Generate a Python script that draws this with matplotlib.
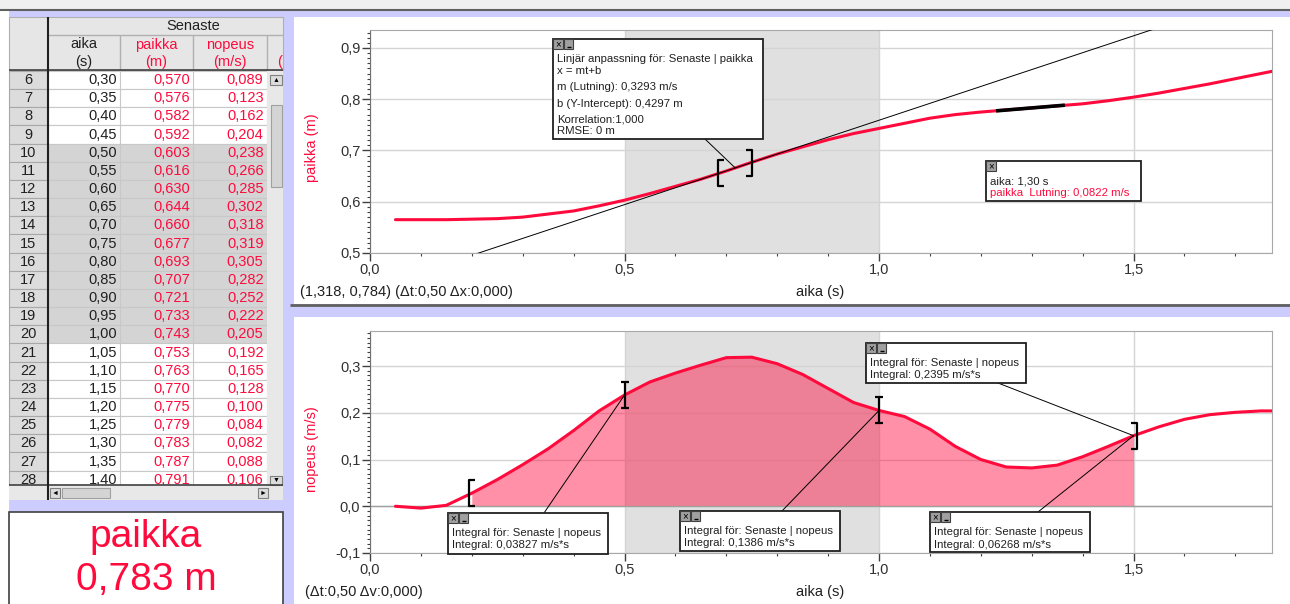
import numpy as np
import matplotlib
matplotlib.use('Agg')
import matplotlib.pyplot as plt
from matplotlib.patches import Rectangle
from matplotlib.ticker import MultipleLocator, FuncFormatter

plt.rcParams['font.family'] = ['Liberation Sans', 'DejaVu Sans']

W, H = 1290, 604

# data (Senaste run)
aika = [0.05, 0.10, 0.15, 0.20, 0.25, 0.30, 0.35, 0.40, 0.45, 0.50,
        0.55, 0.60, 0.65, 0.70, 0.75, 0.80, 0.85, 0.90, 0.95, 1.00,
        1.05, 1.10, 1.15, 1.20, 1.25, 1.30, 1.35, 1.40, 1.45, 1.50,
        1.55, 1.60, 1.65, 1.70, 1.75, 1.80]
paikka = [0.565, 0.565, 0.565, 0.566, 0.567, 0.570, 0.576, 0.582, 0.592, 0.603,
          0.616, 0.630, 0.644, 0.660, 0.677, 0.693, 0.707, 0.721, 0.733, 0.743,
          0.753, 0.763, 0.770, 0.775, 0.779, 0.783, 0.787, 0.791, 0.797, 0.804,
          0.812, 0.821, 0.830, 0.840, 0.850, 0.860]
nopeus = [0.000, -0.004, 0.002, 0.028, 0.057, 0.089, 0.123, 0.162, 0.204, 0.238,
          0.266, 0.285, 0.302, 0.318, 0.319, 0.305, 0.282, 0.252, 0.222, 0.205,
          0.192, 0.165, 0.128, 0.100, 0.084, 0.082, 0.088, 0.106, 0.128, 0.151,
          0.170, 0.186, 0.196, 0.201, 0.204, 0.204]

table_rows = list(range(6, 29))      # row numbers shown in the table
table_start = 0.30                   # aika of row 6
sel_range = (0.50, 1.00)             # selected region
fit_m, fit_b = 0.3293, 0.4297
fit_range = (0.69, 0.745)
tan_t, tan_slope = 1.30, 0.0822
tan_range = (1.23, 1.365)
int_edges = [0.20, 0.50, 1.00, 1.50]
int_values = ['0,03827', '0,1386', '0,2395', '0,06268']

RED = '#ff0a3c'
LAV = '#ccccff'
SEL = '#e0e0e0'


def comma(v, d):
    s = f'{v:.{d}f}'.replace('.', ',')
    return '0,' + '0' * d if s.strip('-0,') == '' else s


fig = plt.figure(figsize=(W / 100, H / 100), dpi=100)
bg = fig.add_axes([0, 0, 1, 1], zorder=0)
ov = fig.add_axes([0, 0, 1, 1], zorder=10)
for a in (bg, ov):
    a.set_xlim(0, W)
    a.set_ylim(H, 0)
    a.axis('off')
ov.patch.set_visible(False)


def box(ax, x0, y0, x1, y1, **kw):
    ax.add_patch(Rectangle((x0, y0), x1 - x0, y1 - y0, **kw))


def hline(ax, y, x0, x1, c, lw=1, z=2):
    ax.plot([x0, x1], [y, y], color=c, lw=lw, zorder=z, solid_capstyle='butt')


def vline(ax, x, y0, y1, c, lw=1, z=2):
    ax.plot([x, x], [y0, y1], color=c, lw=lw, zorder=z, solid_capstyle='butt')


# window background
box(bg, 0, 0, W, 9, fc='#f0f0f0', lw=0)
box(bg, 9, 10, W, H, fc=LAV, lw=0)
hline(bg, 9.5, 0, W, '#606060', lw=1.5)
box(bg, 294, 17, W, 304, fc='white', lw=0)
hline(bg, 305, 290, W, '#606060', lw=2)
box(bg, 294, 317, W, H, fc='white', lw=0)

# ---- data table ----
box(bg, 9, 17, 283, 70, fc='#e6e6e6', ec='#b0b0b0', lw=0.8)
hline(bg, 35, 48, 283, '#b0b0b0')
for x in (120, 193, 267):
    vline(bg, x, 35, 70, '#b0b0b0')
bg.text(193, 25.5, 'Senaste', ha='center', va='center', fontsize=10.5, color='#202020')
heads = [('aika', '(s)', 84, '#202020'), ('paikka', '(m)', 156, RED),
         ('nopeus', '(m/s)', 230, RED), ('', '(', 280, RED)]
for name, unit, x, c in heads:
    bg.text(x, 44.5, name, ha='center', va='center', fontsize=10.5, color=c)
    bg.text(x, 62, unit, ha='center', va='center', fontsize=10.5, color=c)

row_h = 18.17
i0 = aika.index(table_start)
for i, r in enumerate(table_rows):
    k = i0 + i
    yc = 80 + i * row_h
    y0, y1 = yc - row_h / 2, yc + row_h / 2
    selected = sel_range[0] - 1e-9 <= aika[k] <= sel_range[1] + 1e-9
    box(bg, 9, y0, 48, y1, fc='#dcdcdc', ec='#a8a8a8', lw=0.8)
    box(bg, 48, y0, 267, y1, fc='#d4d4d4' if selected else 'white',
        ec='#c8c8c8', lw=0.8)
    for x in (120, 193):
        vline(bg, x, y0, y1, '#c8c8c8', lw=0.8)
    bg.text(28, yc, str(r), ha='center', va='center', fontsize=10.5, color='#202020')
    bg.text(117, yc, comma(aika[k], 2), ha='right', va='center', fontsize=10.5, color='#202020')
    bg.text(190, yc, comma(paikka[k], 3), ha='right', va='center', fontsize=10.5, color=RED)
    bg.text(263.5, yc, comma(nopeus[k], 3), ha='right', va='center', fontsize=10.5, color=RED)

# scrollbars (cover the clipped last row)
box(bg, 267, 71, 283, 485, fc='#e8e8e8', lw=0, zorder=3)
box(bg, 270, 75, 282, 85, fc='#dcdcdc', ec='#808080', lw=0.8, zorder=4)
bg.text(276, 80.5, '▲', ha='center', va='center', fontsize=5, zorder=5)
box(bg, 270.5, 105, 282, 187, fc='#d4d4d4', ec='#a0a0a0', lw=0.8, zorder=4)
box(bg, 270, 476, 282, 485, fc='#dcdcdc', ec='#808080', lw=0.8, zorder=4)
bg.text(276, 480.5, '▼', ha='center', va='center', fontsize=5, zorder=5)
box(bg, 9, 485, 283, 500, fc='#e8e8e8', lw=0, zorder=3)
hline(bg, 485, 9, 283, '#404040', lw=1.2, z=4)
box(bg, 50, 488, 60, 498, fc='#dcdcdc', ec='#808080', lw=0.8, zorder=4)
bg.text(55, 493, '◄', ha='center', va='center', fontsize=5, zorder=5)
box(bg, 62, 488, 110, 498, fc='#d4d4d4', ec='#a0a0a0', lw=0.8, zorder=4)
box(bg, 258, 488, 268, 498, fc='#dcdcdc', ec='#808080', lw=0.8, zorder=4)
bg.text(263, 493, '►', ha='center', va='center', fontsize=5, zorder=5)
hline(bg, 70, 9, 283, '#404040', lw=1.2, z=4)
vline(bg, 48, 17, 500, '#202020', lw=1.5, z=4)

# meter box
i_now = aika.index(tan_t)
box(bg, 9, 512, 283, H + 2, fc='white', ec='#404040', lw=1.2)
bg.text(146, 537, 'paikka', ha='center', va='center', fontsize=28, color=RED)
bg.text(146, 580, comma(paikka[i_now], 3) + ' m', ha='center', va='center',
        fontsize=28, color=RED)

# ---- graphs ----
XMAX = 1.772


def fmt(v, p):
    return comma(v, 1)


def chart(y0, y1, ylo, yhi):
    ax = fig.add_axes([370 / W, 1 - y1 / H, (1272 - 370) / W, (y1 - y0) / H], zorder=5)
    ax.set_xlim(0, XMAX)
    ax.set_ylim(ylo, yhi)
    ax.set_axisbelow(True)
    ax.axvspan(*sel_range, color=SEL, lw=0, zorder=0)
    ax.xaxis.set_major_locator(MultipleLocator(0.5))
    ax.xaxis.set_minor_locator(MultipleLocator(0.1))
    ax.yaxis.set_major_locator(MultipleLocator(0.1))
    ax.yaxis.set_minor_locator(MultipleLocator(0.01))
    ax.xaxis.set_major_formatter(FuncFormatter(fmt))
    ax.yaxis.set_major_formatter(FuncFormatter(fmt))
    ax.grid(which='major', color='#d4d4d4', lw=1)
    ax.tick_params(which='major', length=5.5, width=1, color='#404040',
                   labelsize=10.5, labelcolor='#303030', pad=1.5)
    ax.tick_params(which='minor', length=2.5, width=0.8, color='#404040')
    for s in ax.spines.values():
        s.set_color('#a8a8a8')
    ax.spines['left'].set_color('#707070')
    return ax


def to_px(ax, t, v):
    x, y = ax.transData.transform((t, v))
    return x, H - y


ax1 = chart(30, 253, 0.5, 0.935)
ax2 = chart(331, 553, -0.1, 0.375)

t = np.array(aika)
p = np.array(paikka)
v = np.array(nopeus)

ax1.plot(t, p, color=RED, lw=2.2, zorder=3, solid_capstyle='round')
tl = np.array([0, XMAX])
ax1.plot(tl, fit_m * tl + fit_b, color='black', lw=0.7, zorder=4)
tt = np.array(tan_range)
p_now = np.interp(tan_t, t, p)
ax1.plot(tt, p_now + tan_slope * (tt - tan_t), color='black', lw=2.6, zorder=5,
         solid_capstyle='butt')

mask = (t >= int_edges[0] - 1e-9) & (t <= int_edges[-1] + 1e-9)
ax2.fill_between(t, 0, v, where=mask, color='#ff0a3c', alpha=0.45, lw=0, zorder=1)
ax2.axhline(0, color='#a0a0a0', lw=1, zorder=1.5)
ax2.plot(t, v, color=RED, lw=2.2, zorder=3, solid_capstyle='round')


def bracket(ax, tx, vy, kind, half=13, w=6):
    x, y = to_px(ax, tx, vy)
    kw = dict(color='black', lw=1.6, solid_capstyle='butt', zorder=6)
    if kind == '[':
        xv, xe = x - 3, x - 3 + w
    elif kind == ']':
        xv, xe = x + 3, x + 3 - w
    else:
        xv = x
        ov.plot([x - 4, x + 4], [y - half, y - half], **kw)
        ov.plot([x - 4, x + 4], [y + half, y + half], **kw)
        ov.plot([x, x], [y - half, y + half], **kw)
        return
    ov.plot([xe, xv, xv, xe], [y - half, y - half, y + half, y + half], **kw)


bracket(ax1, fit_range[0], np.interp(fit_range[0], t, p), '[')
bracket(ax1, fit_range[1], np.interp(fit_range[1], t, p), ']')
kinds = ['[', 'I', 'I', ']']
for e, k in zip(int_edges, kinds):
    bracket(ax2, e, np.interp(e, t, v), k)


def icons(x, y, both=True):
    box(ov, x, y, x + 10, y + 10, fc='#a0a0a0', ec='#404040', lw=0.8, zorder=8)
    ov.text(x + 5, y + 5, '×', ha='center', va='center', fontsize=7, zorder=9)
    if both:
        box(ov, x + 11, y, x + 20, y + 10, fc='#a0a0a0', ec='#404040', lw=0.8, zorder=8)
        hline(ov, y + 8, x + 13.5, x + 17.5, 'black', lw=1, z=9)


def callout(x0, y0, x1, y1, lines, both=True):
    box(ov, x0, y0, x1, y1, fc='white', ec='#202020', lw=1.3, zorder=7)
    icons(x0, y0, both)
    for yy, s, c in lines:
        ov.text(x0 + 4, yy, s, ha='left', va='center', fontsize=8.2, color=c, zorder=9)


def leader(x0, y0, ax, tx, vy):
    x, y = to_px(ax, tx, vy)
    ov.plot([x0, x], [y0, y], color='black', lw=0.7, zorder=6)


# linear fit callout
fit_mid = (fit_range[0] + fit_range[1]) / 2
leader(705, 139, ax1, fit_mid, np.interp(fit_mid, t, p))
callout(553, 39, 763, 139, [
    (59, 'Linjär anpassning för: Senaste | paikka', '#202020'),
    (71, 'x = mt+b', '#202020'),
    (87, 'm (Lutning): ' + comma(fit_m, 4) + ' m/s', '#202020'),
    (104, 'b (Y-Intercept): ' + comma(fit_b, 4) + ' m', '#202020'),
    (119, 'Korrelation:1,000', '#202020'),
    (131, 'RMSE: 0 m', '#202020')])
callout(986, 161, 1141, 201, [
    (181, 'aika: ' + comma(tan_t, 2) + ' s', '#202020'),
    (193, 'paikka  Lutning: ' + comma(tan_slope, 4) + ' m/s', RED)], both=False)

# integral callouts
boxes = [(448, 513, 608, 554), (680, 511, 840, 551),
         (866, 343, 1026, 383), (930, 512, 1090, 552)]
anchors = [(544, 513), (782, 511), (998, 383), (1038, 512)]
targets = [int_edges[1], int_edges[2], int_edges[3], int_edges[3]]
for (bx0, by0, bx1, by1), (lx, ly), te, val in zip(boxes, anchors, targets, int_values):
    leader(lx, ly, ax2, te, np.interp(te, t, v))
    callout(bx0, by0, bx1, by1, [
        (by0 + 20, 'Integral för: Senaste | nopeus', '#202020'),
        (by0 + 32.5, 'Integral: ' + val + ' m/s*s', '#202020')])

# axis labels and status lines
ov.text(312, 148, 'paikka (m)', rotation=90, ha='center', va='center', fontsize=10.5, color=RED)
ov.text(312, 449, 'nopeus (m/s)', rotation=90, ha='center', va='center', fontsize=10.5, color=RED)
ov.text(796, 292, 'aika (s)', ha='left', va='center', fontsize=10.5, color='#202020')
ov.text(796, 592, 'aika (s)', ha='left', va='center', fontsize=10.5, color='#202020')
ov.text(300, 292, '(1,318, 0,784) (Δt:0,50 Δx:0,000)', ha='left', va='center',
        fontsize=10.5, color='#202020')
ov.text(305, 592, '(Δt:0,50 Δv:0,000)', ha='left', va='center', fontsize=10.5, color='#202020')

fig.savefig('out.png', dpi=100)
